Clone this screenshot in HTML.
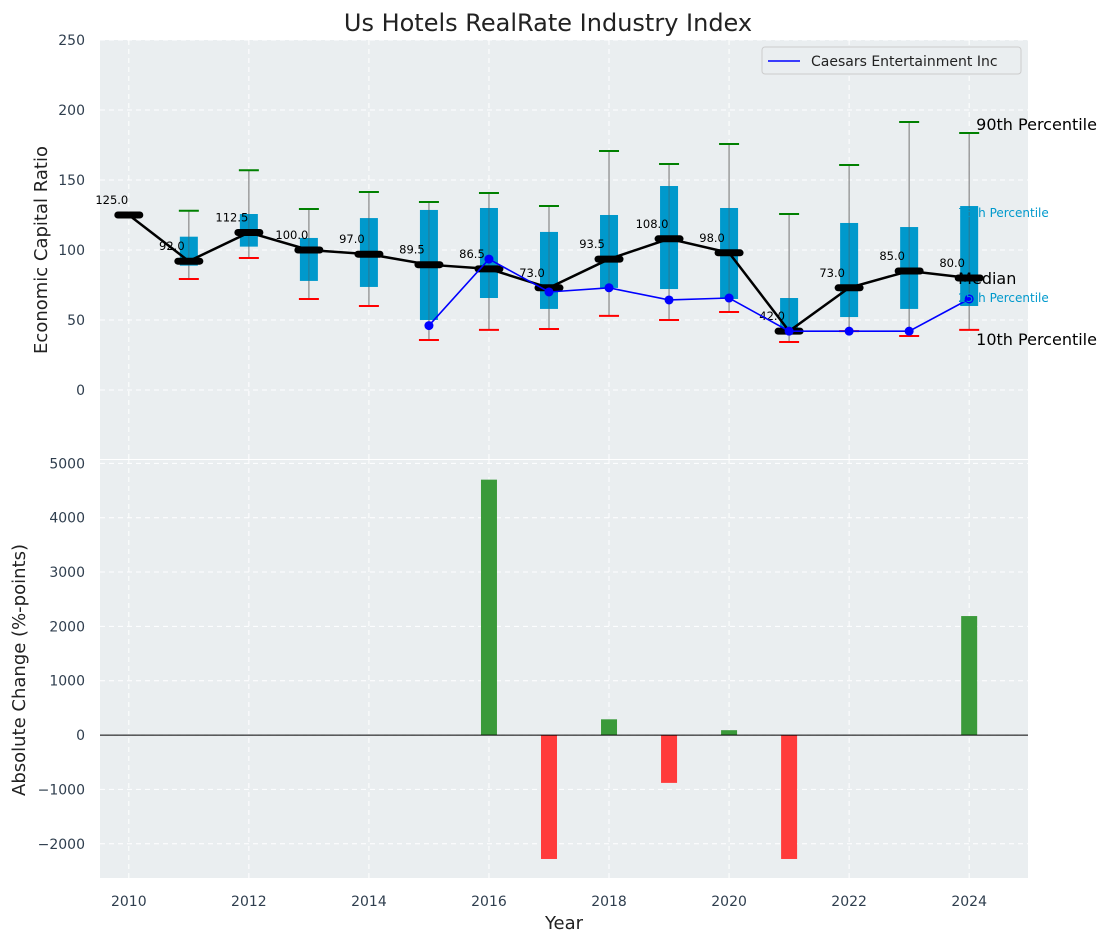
<!DOCTYPE html>
<html><head><meta charset="utf-8"><style>
html,body{margin:0;padding:0;background:#fff;}
svg{display:block;font-family:"DejaVu Sans","Liberation Sans",sans-serif;}
</style></head><body>
<svg id="chart" width="1111" height="942" viewBox="0 0 1111 942">
<text x="548" y="31" text-anchor="middle" font-size="24" fill="#222">Us Hotels RealRate Industry Index</text>
<g id="topPanel"></g>
<g id="botPanel"></g>
</svg>
<script>
const years=[2010,2011,2012,2013,2014,2015,2016,2017,2018,2019,2020,2021,2022,2023,2024];
const medians=[125,92,112.5,100,97,89.5,86.5,73,93.5,108,98,42,73,85,80];
const q1=[null,88.8,102.4,77.9,73.6,50,65.7,57.9,72.9,72.1,65,42.5,52.1,57.9,60];
const q3=[null,109.5,125.7,108.6,122.8,128.6,130,112.9,125,145.7,130,65.7,119.3,116.4,131.4];
const p10=[null,79.3,94.3,65,60,35.7,42.9,43.6,52.9,50,55.7,34.3,42,38.6,42.9];
const p90=[null,128,157,129.3,141.4,134.3,140.7,131.4,170.7,161.4,175.7,125.7,160.7,191.4,183.6];
const caesarsYears=[2015,2016,2017,2018,2019,2020,2021,2022,2023,2024];
const caesars=[46,93.5,70,73,64.3,65.7,42,42,42,65];
const changeYears=[2016,2017,2018,2019,2020,2021,2024];
const changes=[4700,-2280,290,-880,90,-2280,2190];
const topTicks=[0,50,100,150,200,250];
const botTicks=[-2000,-1000,0,1000,2000,3000,4000,5000];
const xTicks=[2010,2012,2014,2016,2018,2020,2022,2024];

const NS="http://www.w3.org/2000/svg";
const L=100,R=1028,T1=40,B1=459,T2=459,B2=878;
const x=v=>L+(v-2009.52)*(R-L)/(2024.98-2009.52);
const y1=v=>B1-(v+49.3)*(B1-T1)/(250+49.3);
const y2=v=>B2-(v+2630)*(B2-T2)/(5080+2630);
function mk(p,tag,a,txt){const el=document.createElementNS(NS,tag);for(const k in a)el.setAttribute(k,a[k]);if(txt!=null)el.textContent=txt;p.appendChild(el);return el;}
const topG=document.getElementById('topPanel'),botG=document.getElementById('botPanel');
let e;

e=mk(topG,'rect',{x:L,y:T1,width:R-L,height:B1-T1,fill:'#eaeef0'});


e=mk(botG,'rect',{x:L,y:T2+1,width:R-L,height:B2-T2-1,fill:'#eaeef0'});



xTicks.forEach(t=>{
  e=mk(topG,'line',{x1:x(t),x2:x(t),y1:T1,y2:B1,stroke:'#fff','stroke-dasharray':'5,4','stroke-width':1});
  
  
  e=mk(botG,'line',{x1:x(t),x2:x(t),y1:T2,y2:B2,stroke:'#fff','stroke-dasharray':'5,4','stroke-width':1});
  
  
  e=mk(botG,'text',{x:x(t),y:B2+28,'text-anchor':'middle','font-size':14,fill:'#2f3e4e'},String(t));
  
  
});
topTicks.forEach(t=>{
  e=mk(topG,'line',{x1:L,x2:R,y1:y1(t),y2:y1(t),stroke:'#fff','stroke-dasharray':'5,4','stroke-width':1});
  
  
  e=mk(topG,'text',{x:85,y:y1(t)+5,'text-anchor':'end','font-size':14,fill:'#2f3e4e'},String(t));
  
  
});
botTicks.forEach(t=>{
  e=mk(botG,'line',{x1:L,x2:R,y1:y2(t),y2:y2(t),stroke:'#fff','stroke-dasharray':'5,4','stroke-width':1});
  
  
  e=mk(botG,'text',{x:85,y:y2(t)+5,'text-anchor':'end','font-size':14,fill:'#2f3e4e'},(t<0?'\u2212'+(-t):String(t)));
  
  
});

years.forEach((yr,i)=>{
  if(q1[i]==null)return;
  const cx=x(yr);
  e=mk(topG,'line',{x1:cx,x2:cx,y1:y1(p90[i]),y2:y1(p10[i]),stroke:'#888','stroke-width':1.2});
  
  
  e=mk(topG,'rect',{x:cx-9,y:y1(q3[i]),width:18,height:y1(q1[i])-y1(q3[i]),fill:'#0099cc'});
  
  
  e=mk(topG,'line',{x1:cx,x2:cx,y1:y1(q3[i]),y2:y1(q1[i]),stroke:'#555','stroke-width':1,opacity:0.5});
  
  
  e=mk(topG,'line',{x1:cx-10,x2:cx+10,y1:y1(p90[i]),y2:y1(p90[i]),stroke:'green','stroke-width':2});
  
  
  e=mk(topG,'line',{x1:cx-10,x2:cx+10,y1:y1(p10[i]),y2:y1(p10[i]),stroke:'red','stroke-width':2});
  
  
});
e=mk(topG,'polyline',{points:years.map((yr,i)=>x(yr)+','+y1(medians[i])).join(' '),fill:'none',stroke:'#000','stroke-width':2.5});


years.forEach((yr,i)=>{
  e=mk(topG,'line',{x1:x(yr)-11,x2:x(yr)+11,y1:y1(medians[i]),y2:y1(medians[i]),stroke:'#000','stroke-width':7,'stroke-linecap':'round'});
  
  
  e=mk(topG,'text',{x:x(yr)-17,y:y1(medians[i])-11,'text-anchor':'middle','font-size':11.5,fill:'#000'},medians[i].toFixed(1));
  
  
});
e=mk(topG,'polyline',{points:caesarsYears.map((yr,i)=>x(yr)+','+y1(caesars[i])).join(' '),fill:'none',stroke:'#0000ff','stroke-width':1.6});


caesarsYears.forEach((yr,i)=>{
  e=mk(topG,'circle',{cx:x(yr),cy:y1(caesars[i]),r:4.5,fill:'#0000ff'});
  
  
});
const ax=x(2024);
e=mk(topG,'text',{x:ax+7,y:130,'font-size':16,fill:'#000'},'90th Percentile');


e=mk(topG,'text',{x:ax-11,y:217,'font-size':12,fill:'#0099cc'},'75th Percentile');


e=mk(topG,'text',{x:ax-11,y:284,'font-size':16,fill:'#000'},'Median');


e=mk(topG,'text',{x:ax-11,y:302,'font-size':12,fill:'#0099cc'},'25th Percentile');


e=mk(topG,'text',{x:ax+7,y:345,'font-size':16,fill:'#000'},'10th Percentile');


const lg=mk(topG,'g',{});


mk(lg,'rect',{x:762,y:47,width:259,height:27,rx:3,fill:'#eaeef0',stroke:'#ccc'});
mk(lg,'line',{x1:768,x2:800,y1:61,y2:61,stroke:'#0000ff','stroke-width':1.6});
e=mk(lg,'text',{x:811,y:66,'font-size':14,fill:'#222'},'Caesars Entertainment Inc');


e=mk(topG,'text',{x:47,y:250,'text-anchor':'middle','font-size':18,fill:'#222',transform:'rotate(-90 47 250)'},'Economic Capital Ratio');


e=mk(botG,'text',{x:25,y:670,'text-anchor':'middle','font-size':18,fill:'#222',transform:'rotate(-90 25 670)'},'Absolute Change (%-points)');


e=mk(botG,'text',{x:564,y:929,'text-anchor':'middle','font-size':18,fill:'#222'},'Year');


changeYears.forEach((yr,i)=>{
  const v=changes[i];
  const yt=v>=0?y2(v):y2(0),h=Math.abs(y2(v)-y2(0));
  e=mk(botG,'rect',{x:x(yr)-8,y:yt,width:16,height:h,fill:v>=0?'#3a9a3a':'#ff3b3b'});
  
  
});
e=mk(botG,'line',{x1:L,x2:R,y1:y2(0),y2:y2(0),stroke:'#000','stroke-width':1});


</script>
</body></html>
